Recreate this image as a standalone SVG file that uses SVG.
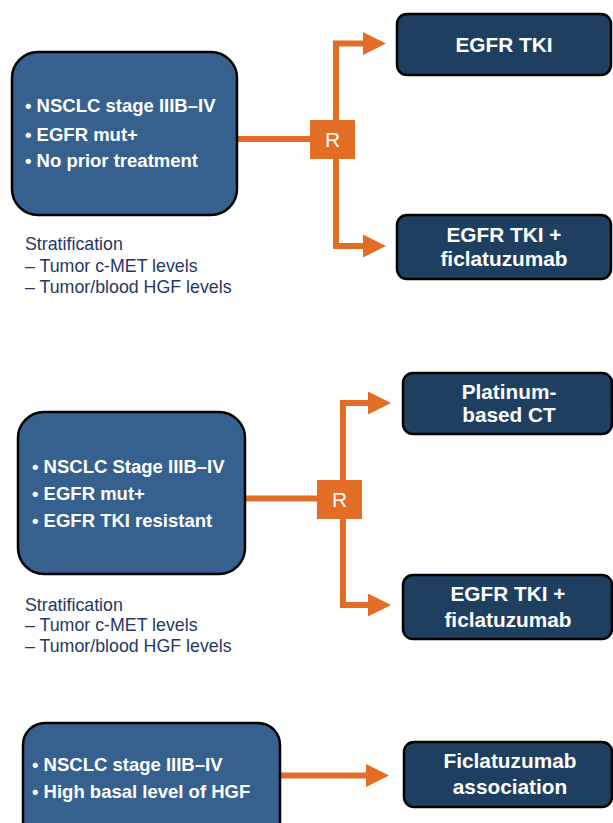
<svg xmlns="http://www.w3.org/2000/svg" width="613" height="823" viewBox="0 0 613 823">
<defs>
<style>
.crit{fill:#36618f;stroke:#000;stroke-width:2.5}
.arm{fill:#1e3f5f;stroke:#000;stroke-width:2.5}
.rbox{fill:#e46d25}
.bt{font-family:"Liberation Sans",Arial,sans-serif;font-weight:bold;font-size:18.5px;fill:#fff}
.at{font-family:"Liberation Sans",Arial,sans-serif;font-weight:bold;font-size:20.8px;fill:#fff;text-anchor:middle}
.st{font-family:"Liberation Sans",Arial,sans-serif;font-size:17.8px;fill:#1f3864}
.rt{font-family:"Liberation Sans",Arial,sans-serif;font-size:21px;fill:#fff;text-anchor:middle}
.con{fill:none;stroke:#e46d25;stroke-width:6;stroke-linejoin:miter;stroke-linecap:butt}
</style>
<marker id="ah" viewBox="0 0 23 23" refX="0" refY="11.5" markerWidth="23" markerHeight="23" markerUnits="userSpaceOnUse" orient="auto">
<path d="M0,0 L23,11.5 L0,23 z" fill="#e46d25"/>
</marker>
</defs>
<rect width="613" height="823" fill="#fff"/>

<g id="connectors">
<path class="con" d="M237,139 H311"/>
<path class="con" d="M336,121 V43.5 H363" marker-end="url(#ah)"/>
<path class="con" d="M336,158 V246 H363" marker-end="url(#ah)"/>
<path class="con" d="M245,498.5 H318"/>
<path class="con" d="M343,481 V403 H368" marker-end="url(#ah)"/>
<path class="con" d="M343,518 V605 H368" marker-end="url(#ah)"/>
<path class="con" d="M280,775.5 H366" marker-end="url(#ah)"/>
</g>

<g id="criteria1">
<rect class="crit" x="12" y="52" width="225" height="163" rx="26"/>
<text class="bt" x="25" y="112">• NSCLC stage IIIB–IV</text>
<text class="bt" x="25" y="140.5">• EGFR mut+</text>
<text class="bt" x="25" y="167">• No prior treatment</text>
</g>
<g id="strat1">
<text class="st" x="25" y="250">Stratification</text>
<text class="st" x="25" y="271.5">– Tumor c-MET levels</text>
<text class="st" x="25" y="292.5">– Tumor/blood HGF levels</text>
</g>
<g id="r1">
<rect class="rbox" x="310" y="120" width="45" height="39"/>
<text class="rt" x="332.5" y="147">R</text>
</g>
<g id="arm1a">
<rect class="arm" x="397" y="14" width="214" height="61" rx="10"/>
<text class="at" x="504" y="52">EGFR TKI</text>
</g>
<g id="arm1b">
<rect class="arm" x="397" y="215" width="214" height="64" rx="10"/>
<text class="at" x="504" y="242">EGFR TKI +</text>
<text class="at" x="504" y="266">ficlatuzumab</text>
</g>

<g id="criteria2">
<rect class="crit" x="18" y="412" width="227" height="162" rx="26"/>
<text class="bt" x="32" y="473">• NSCLC Stage IIIB–IV</text>
<text class="bt" x="32" y="500">• EGFR mut+</text>
<text class="bt" x="32" y="526.5">• EGFR TKI resistant</text>
</g>
<g id="strat2">
<text class="st" x="25" y="610.5">Stratification</text>
<text class="st" x="25" y="631">– Tumor c-MET levels</text>
<text class="st" x="25" y="652">– Tumor/blood HGF levels</text>
</g>
<g id="r2">
<rect class="rbox" x="317" y="480" width="45" height="39"/>
<text class="rt" x="339.5" y="507">R</text>
</g>
<g id="arm2a">
<rect class="arm" x="403" y="373" width="209" height="61" rx="10"/>
<text class="at" x="509" y="399">Platinum-</text>
<text class="at" x="509" y="422">based CT</text>
</g>
<g id="arm2b">
<rect class="arm" x="403" y="575" width="209" height="64" rx="10"/>
<text class="at" x="508" y="600.5">EGFR TKI +</text>
<text class="at" x="508" y="626.5">ficlatuzumab</text>
</g>

<g id="criteria3">
<rect class="crit" x="23" y="723" width="257" height="125" rx="22"/>
<text class="bt" x="32" y="771">• NSCLC stage IIIB–IV</text>
<text class="bt" x="32" y="797.5">• High basal level of HGF</text>
</g>
<g id="arm3">
<rect class="arm" x="404" y="742" width="208" height="65" rx="10"/>
<text class="at" x="510" y="768">Ficlatuzumab</text>
<text class="at" x="510" y="794">association</text>
</g>
</svg>
